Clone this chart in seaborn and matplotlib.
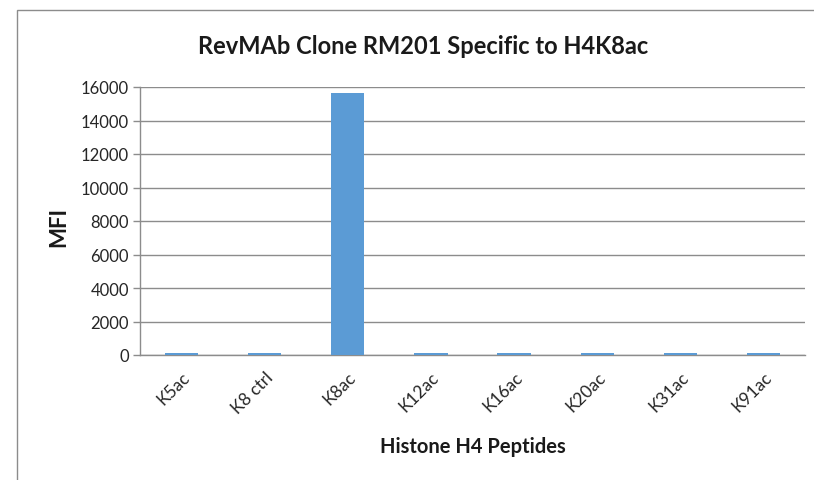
import matplotlib
matplotlib.use("Agg")
import matplotlib.pyplot as plt
import matplotlib.patches as mpatches
import numpy as np
import pandas as pd
import seaborn as sns

# data
peptides = ["K5ac", "K8 ctrl", "K8ac", "K12ac", "K16ac", "K20ac", "K31ac", "K91ac"]
mfi = [90, 90, 15640, 90, 90, 90, 90, 90]
y_ticks = [0, 2000, 4000, 6000, 8000, 10000, 12000, 14000, 16000]

df = pd.DataFrame({"Peptide": peptides, "MFI": mfi})

sns.set_style("white")
plt.rcParams["font.family"] = ["Lato", "DejaVu Sans"]

GRAY = "#8c8c8c"
BLUE = "#5b9bd5"

fig = plt.figure(figsize=(8.14, 4.81), dpi=100)
ax = fig.add_axes([140 / 814, 1 - 356 / 481, (805 - 140) / 814, (356 - 88) / 481])

sns.barplot(data=df, x="Peptide", y="MFI", color=BLUE, width=0.4,
            saturation=1, linewidth=0, ax=ax, zorder=3)

ax.set_xlim(-0.5, len(peptides) - 0.5)
ax.set_ylim(0, 16000)
ax.set_yticks(y_ticks)
ax.set_yticklabels([str(v) for v in y_ticks], fontsize=12, color="#262626")
ax.yaxis.grid(True, color=GRAY, linewidth=1, zorder=0)
ax.xaxis.grid(False)

# tick marks between categories, labels at category centres
ax.set_xticks(np.arange(len(peptides)))
ax.set_xticklabels(peptides, rotation=45, ha="right", rotation_mode="anchor",
                   fontsize=12.5, color="#262626")
ax.set_xticks(np.arange(len(peptides) + 1) - 0.5, minor=True)
ax.tick_params(axis="x", which="major", length=0, pad=10)
ax.tick_params(axis="x", which="minor", length=5, color=GRAY, width=1)
ax.tick_params(axis="y", length=5, color=GRAY, width=1, pad=3, left=True)

for side in ["top", "right"]:
    ax.spines[side].set_visible(False)
for side in ["left", "bottom"]:
    ax.spines[side].set_color(GRAY)
    ax.spines[side].set_linewidth(1)

ax.set_xlabel("Histone H4 Peptides", fontsize=14.5, fontweight="bold",
              color="#1a1a1a", labelpad=14)
ax.set_ylabel("MFI", fontsize=16, fontweight="bold", color="#1a1a1a",
              labelpad=8)
ax.yaxis.label.set_y(0.48)
fig.text(423 / 814, 1 - 47 / 481, "RevMAb Clone RM201 Specific to H4K8ac",
         ha="center", va="center", fontsize=17, fontweight="bold",
         color="#1a1a1a")

# chart area frame
frame = mpatches.Rectangle((16.5 / 814, -0.1), 1.2, (481 - 10.5) / 481 + 0.1,
                           transform=fig.transFigure, fill=False,
                           edgecolor=GRAY, linewidth=1)
fig.patches.append(frame)

fig.savefig("out.png", dpi=100)
